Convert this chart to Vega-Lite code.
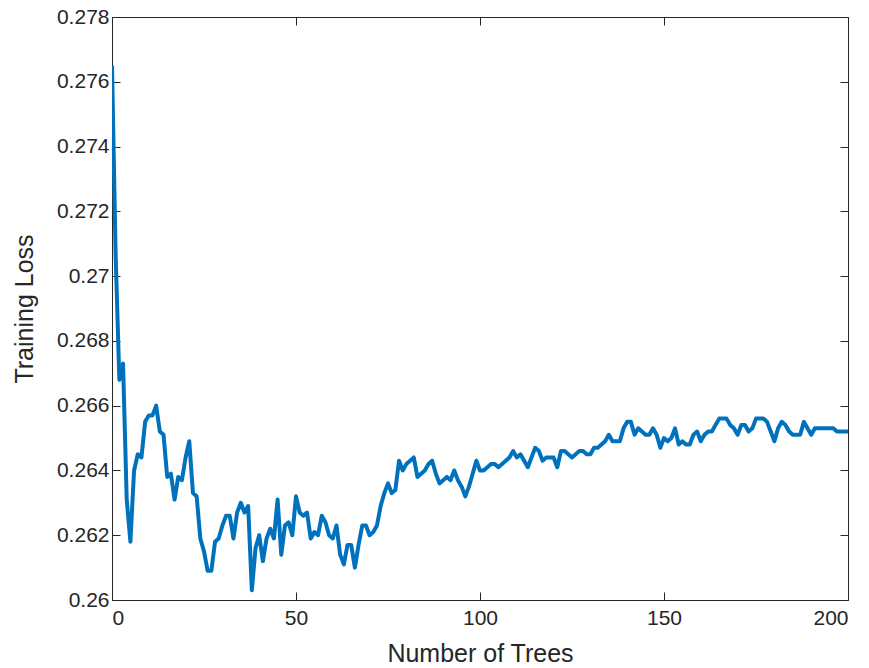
{
  "$schema": "https://vega.github.io/schema/vega-lite/v6.json",
  "width": 736,
  "height": 583,
  "autosize": "none",
  "padding": {"left": 112, "top": 17, "right": 21, "bottom": 68},
  "background": "white",
  "config": {
    "view": {"stroke": "#262626", "strokeWidth": 1},
    "font": "Liberation Sans",
    "axis": {
      "grid": false,
      "domain": false,
      "tickColor": "#262626",
      "tickSize": -8,
      "tickWidth": 1,
      "labelColor": "#262626",
      "labelFont": "Liberation Sans",
      "labelFontSize": 21,
      "titleColor": "#262626",
      "titleFont": "Liberation Sans",
      "titleFontSize": 25,
      "titleFontWeight": "normal"
    }
  },
  "data": {
    "values": [
      {"trees": 0, "loss": 0.2765}, {"trees": 1, "loss": 0.2706}, {"trees": 2, "loss": 0.2668}, {"trees": 3, "loss": 0.2673},
      {"trees": 4, "loss": 0.2631}, {"trees": 5, "loss": 0.2618}, {"trees": 6, "loss": 0.2640}, {"trees": 7, "loss": 0.2645},
      {"trees": 8, "loss": 0.2644}, {"trees": 9, "loss": 0.2655}, {"trees": 10, "loss": 0.2657}, {"trees": 11, "loss": 0.2657},
      {"trees": 12, "loss": 0.2660}, {"trees": 13, "loss": 0.2652}, {"trees": 14, "loss": 0.2651}, {"trees": 15, "loss": 0.2638},
      {"trees": 16, "loss": 0.2639}, {"trees": 17, "loss": 0.2631}, {"trees": 18, "loss": 0.2638}, {"trees": 19, "loss": 0.2637},
      {"trees": 20, "loss": 0.2644}, {"trees": 21, "loss": 0.2649}, {"trees": 22, "loss": 0.2633}, {"trees": 23, "loss": 0.2632},
      {"trees": 24, "loss": 0.2619}, {"trees": 25, "loss": 0.2615}, {"trees": 26, "loss": 0.2609}, {"trees": 27, "loss": 0.2609},
      {"trees": 28, "loss": 0.2618}, {"trees": 29, "loss": 0.2619}, {"trees": 30, "loss": 0.2623}, {"trees": 31, "loss": 0.2626},
      {"trees": 32, "loss": 0.2626}, {"trees": 33, "loss": 0.2619}, {"trees": 34, "loss": 0.2627}, {"trees": 35, "loss": 0.2630},
      {"trees": 36, "loss": 0.2627}, {"trees": 37, "loss": 0.2629}, {"trees": 38, "loss": 0.2603}, {"trees": 39, "loss": 0.2616},
      {"trees": 40, "loss": 0.2620}, {"trees": 41, "loss": 0.2612}, {"trees": 42, "loss": 0.2619}, {"trees": 43, "loss": 0.2622},
      {"trees": 44, "loss": 0.2619}, {"trees": 45, "loss": 0.2631}, {"trees": 46, "loss": 0.2614}, {"trees": 47, "loss": 0.2623},
      {"trees": 48, "loss": 0.2624}, {"trees": 49, "loss": 0.2620}, {"trees": 50, "loss": 0.2632}, {"trees": 51, "loss": 0.2627},
      {"trees": 52, "loss": 0.2626}, {"trees": 53, "loss": 0.2627}, {"trees": 54, "loss": 0.2619}, {"trees": 55, "loss": 0.2621},
      {"trees": 56, "loss": 0.2620}, {"trees": 57, "loss": 0.2626}, {"trees": 58, "loss": 0.2624}, {"trees": 59, "loss": 0.2620},
      {"trees": 60, "loss": 0.2619}, {"trees": 61, "loss": 0.2623}, {"trees": 62, "loss": 0.2614}, {"trees": 63, "loss": 0.2611},
      {"trees": 64, "loss": 0.2617}, {"trees": 65, "loss": 0.2617}, {"trees": 66, "loss": 0.2610}, {"trees": 67, "loss": 0.2617},
      {"trees": 68, "loss": 0.2623}, {"trees": 69, "loss": 0.2623}, {"trees": 70, "loss": 0.2620}, {"trees": 71, "loss": 0.2621},
      {"trees": 72, "loss": 0.2623}, {"trees": 73, "loss": 0.2629}, {"trees": 74, "loss": 0.2633}, {"trees": 75, "loss": 0.2636},
      {"trees": 76, "loss": 0.2633}, {"trees": 77, "loss": 0.2634}, {"trees": 78, "loss": 0.2643}, {"trees": 79, "loss": 0.2640},
      {"trees": 80, "loss": 0.2642}, {"trees": 81, "loss": 0.2643}, {"trees": 82, "loss": 0.2644}, {"trees": 83, "loss": 0.2638},
      {"trees": 84, "loss": 0.2639}, {"trees": 85, "loss": 0.2640}, {"trees": 86, "loss": 0.2642}, {"trees": 87, "loss": 0.2643},
      {"trees": 88, "loss": 0.2639}, {"trees": 89, "loss": 0.2636}, {"trees": 90, "loss": 0.2637}, {"trees": 91, "loss": 0.2638},
      {"trees": 92, "loss": 0.2637}, {"trees": 93, "loss": 0.2640}, {"trees": 94, "loss": 0.2637}, {"trees": 95, "loss": 0.2635},
      {"trees": 96, "loss": 0.2632}, {"trees": 97, "loss": 0.2635}, {"trees": 98, "loss": 0.2639}, {"trees": 99, "loss": 0.2643},
      {"trees": 100, "loss": 0.2640}, {"trees": 101, "loss": 0.2640}, {"trees": 102, "loss": 0.2641}, {"trees": 103, "loss": 0.2642},
      {"trees": 104, "loss": 0.2642}, {"trees": 105, "loss": 0.2641}, {"trees": 106, "loss": 0.2642}, {"trees": 107, "loss": 0.2643},
      {"trees": 108, "loss": 0.2644}, {"trees": 109, "loss": 0.2646}, {"trees": 110, "loss": 0.2644}, {"trees": 111, "loss": 0.2645},
      {"trees": 112, "loss": 0.2643}, {"trees": 113, "loss": 0.2641}, {"trees": 114, "loss": 0.2644}, {"trees": 115, "loss": 0.2647},
      {"trees": 116, "loss": 0.2646}, {"trees": 117, "loss": 0.2643}, {"trees": 118, "loss": 0.2644}, {"trees": 119, "loss": 0.2644},
      {"trees": 120, "loss": 0.2644}, {"trees": 121, "loss": 0.2641}, {"trees": 122, "loss": 0.2646}, {"trees": 123, "loss": 0.2646},
      {"trees": 124, "loss": 0.2645}, {"trees": 125, "loss": 0.2644}, {"trees": 126, "loss": 0.2645}, {"trees": 127, "loss": 0.2646},
      {"trees": 128, "loss": 0.2646}, {"trees": 129, "loss": 0.2645}, {"trees": 130, "loss": 0.2645}, {"trees": 131, "loss": 0.2647},
      {"trees": 132, "loss": 0.2647}, {"trees": 133, "loss": 0.2648}, {"trees": 134, "loss": 0.2649}, {"trees": 135, "loss": 0.2651},
      {"trees": 136, "loss": 0.2649}, {"trees": 137, "loss": 0.2649}, {"trees": 138, "loss": 0.2649}, {"trees": 139, "loss": 0.2653},
      {"trees": 140, "loss": 0.2655}, {"trees": 141, "loss": 0.2655}, {"trees": 142, "loss": 0.2651}, {"trees": 143, "loss": 0.2653},
      {"trees": 144, "loss": 0.2652}, {"trees": 145, "loss": 0.2651}, {"trees": 146, "loss": 0.2651}, {"trees": 147, "loss": 0.2653},
      {"trees": 148, "loss": 0.2651}, {"trees": 149, "loss": 0.2647}, {"trees": 150, "loss": 0.2650}, {"trees": 151, "loss": 0.2649},
      {"trees": 152, "loss": 0.2650}, {"trees": 153, "loss": 0.2653}, {"trees": 154, "loss": 0.2648}, {"trees": 155, "loss": 0.2649},
      {"trees": 156, "loss": 0.2648}, {"trees": 157, "loss": 0.2648}, {"trees": 158, "loss": 0.2651}, {"trees": 159, "loss": 0.2652},
      {"trees": 160, "loss": 0.2649}, {"trees": 161, "loss": 0.2651}, {"trees": 162, "loss": 0.2652}, {"trees": 163, "loss": 0.2652},
      {"trees": 164, "loss": 0.2654}, {"trees": 165, "loss": 0.2656}, {"trees": 166, "loss": 0.2656}, {"trees": 167, "loss": 0.2656},
      {"trees": 168, "loss": 0.2654}, {"trees": 169, "loss": 0.2653}, {"trees": 170, "loss": 0.2651}, {"trees": 171, "loss": 0.2654},
      {"trees": 172, "loss": 0.2654}, {"trees": 173, "loss": 0.2652}, {"trees": 174, "loss": 0.2653}, {"trees": 175, "loss": 0.2656},
      {"trees": 176, "loss": 0.2656}, {"trees": 177, "loss": 0.2656}, {"trees": 178, "loss": 0.2655}, {"trees": 179, "loss": 0.2652},
      {"trees": 180, "loss": 0.2649}, {"trees": 181, "loss": 0.2653}, {"trees": 182, "loss": 0.2655}, {"trees": 183, "loss": 0.2654},
      {"trees": 184, "loss": 0.2652}, {"trees": 185, "loss": 0.2651}, {"trees": 186, "loss": 0.2651}, {"trees": 187, "loss": 0.2651},
      {"trees": 188, "loss": 0.2655}, {"trees": 189, "loss": 0.2653}, {"trees": 190, "loss": 0.2651}, {"trees": 191, "loss": 0.2653},
      {"trees": 192, "loss": 0.2653}, {"trees": 193, "loss": 0.2653}, {"trees": 194, "loss": 0.2653}, {"trees": 195, "loss": 0.2653},
      {"trees": 196, "loss": 0.2653}, {"trees": 197, "loss": 0.2652}, {"trees": 198, "loss": 0.2652}, {"trees": 199, "loss": 0.2652},
      {"trees": 200, "loss": 0.2652}
    ]
  },
  "resolve": {"axis": {"x": "independent", "y": "independent"}},
  "layer": [
    {
      "mark": {"type": "line", "color": "#0072BD", "strokeWidth": 4, "strokeJoin": "round", "clip": true},
      "encoding": {
        "x": {
          "field": "trees", "type": "quantitative",
          "scale": {"domain": [0, 200], "nice": false, "zero": false},
          "axis": {"orient": "bottom", "values": [0, 50, 100, 150, 200], "title": "Number of Trees", "labelPadding": 15, "titleY": 61, "titleBaseline": "alphabetic"}
        },
        "y": {
          "field": "loss", "type": "quantitative",
          "scale": {"domain": [0.26, 0.278], "nice": false, "zero": false},
          "axis": {
            "orient": "left",
            "values": [0.26, 0.262, 0.264, 0.266, 0.268, 0.27, 0.272, 0.274, 0.276, 0.278],
            "format": ".3~f", "title": "Training Loss", "labelPadding": 11,
            "titleX": -80, "titleY": 291.5, "titleAngle": -90, "titleBaseline": "alphabetic", "titleAlign": "center"
          }
        }
      }
    },
    {
      "mark": {"type": "line", "strokeOpacity": 0},
      "encoding": {
        "x": {
          "field": "trees", "type": "quantitative",
          "scale": {"domain": [0, 200], "nice": false, "zero": false},
          "axis": {"orient": "top", "values": [0, 50, 100, 150, 200], "labels": false, "title": null}
        },
        "y": {
          "field": "loss", "type": "quantitative",
          "scale": {"domain": [0.26, 0.278], "nice": false, "zero": false},
          "axis": {"orient": "right", "values": [0.26, 0.262, 0.264, 0.266, 0.268, 0.27, 0.272, 0.274, 0.276, 0.278], "labels": false, "title": null}
        }
      }
    }
  ]
}
